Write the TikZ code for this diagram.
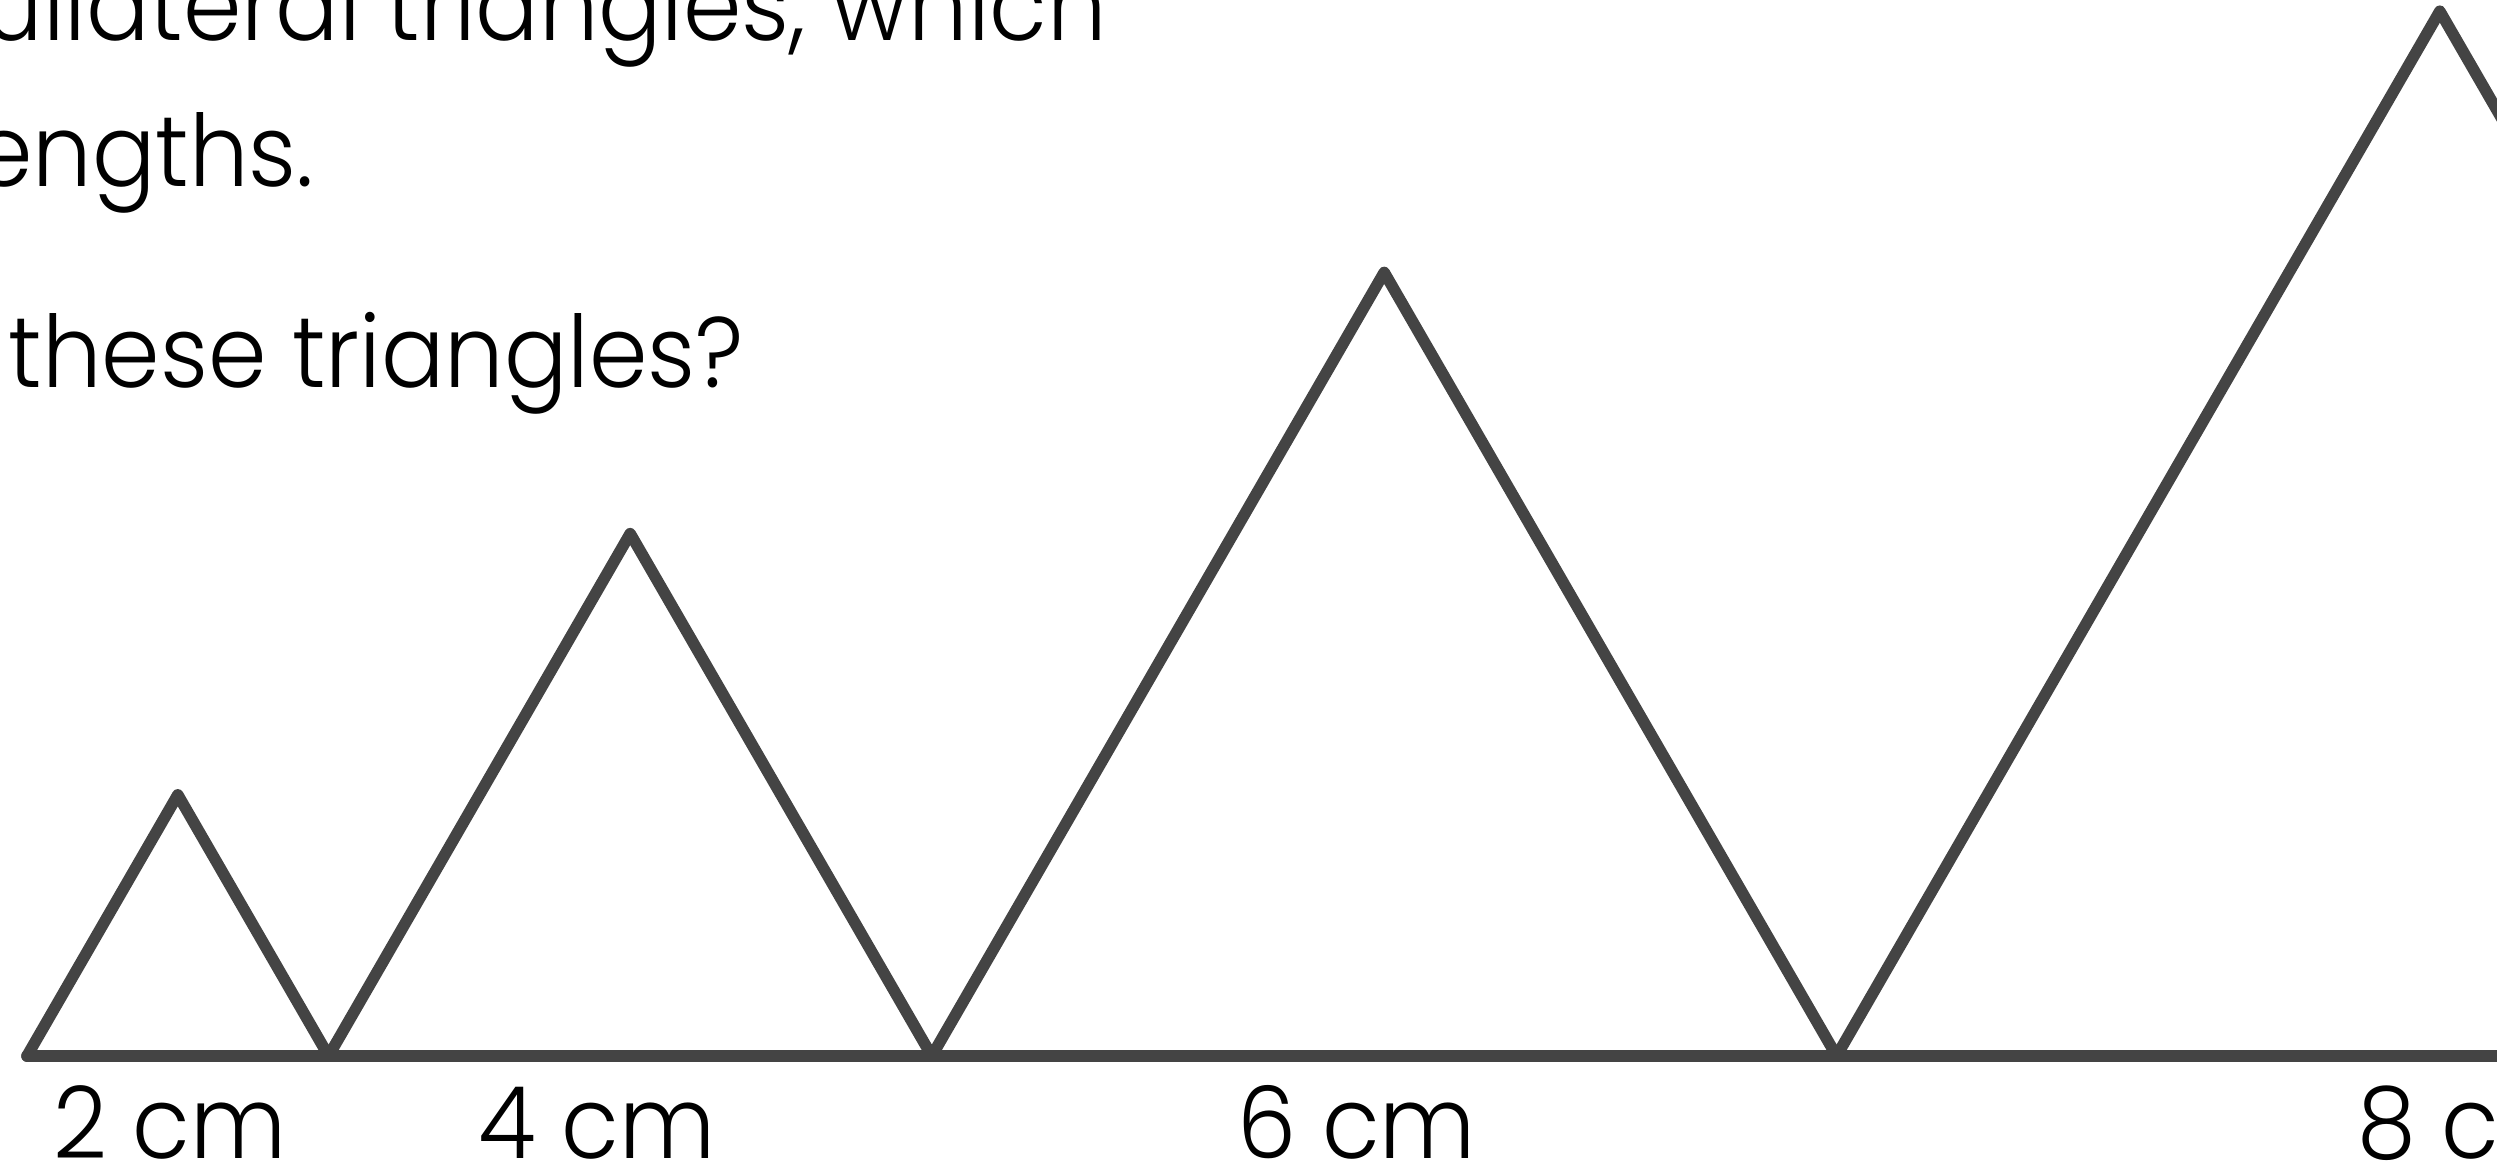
\documentclass[tikz,border=0pt]{standalone}
\usepackage{fontspec}
\setmainfont{Poppins}[UprightFont={* Light}, FakeStretch=0.94]
\definecolor{linegray}{HTML}{444444}
\tikzset{
  tri/.style={draw=linegray, line width=11.5pt, line join=round, line cap=round},
  txt/.style={inner sep=0pt, font=\fontsize{100pt}{120pt}\selectfont, text=black},
}
\begin{document}
\begin{tikzpicture}[x=1pt,y=-1pt]
\useasboundingbox (0,0) rectangle (2497,1162);
\clip (0,0) rectangle (2497,1162);
% base points
\coordinate (b0) at (27,1056);
\coordinate (b1) at (328.6,1056);
\coordinate (b2) at (931.8,1056);
\coordinate (b3) at (1836.6,1056);
\coordinate (b4) at (3043,1056);
% apexes
\coordinate (t1) at (177.8,794.8);
\coordinate (t2) at (630.2,533.6);
\coordinate (t3) at (1384.2,272.4);
\coordinate (t4) at (2439.8,11.2);
\draw[tri] (b0) -- (t1) -- (b1) -- (t2) -- (b2) -- (t3) -- (b3) -- (t4) -- (b4);
\draw[tri] (b0) -- (b4);
% text
\node[txt, anchor=base east] (l1) at (1107,40) {uilateral triangles, which};
\node[txt, anchor=base east] (l2) at (314,186) {engths.};
\node[txt, anchor=base east] (l3) at (744,387) {these triangles?};
% labels
\node[txt, anchor=base west] (c2) at (53,1158) {2 cm};
\node[txt, anchor=base west] (c4) at (478,1158) {4 cm};
\node[txt, anchor=base west] (c6) at (1237,1158) {6 cm};
\node[txt, anchor=base west] (c8) at (2357,1158) {8 cm};
\end{tikzpicture}
\end{document}
